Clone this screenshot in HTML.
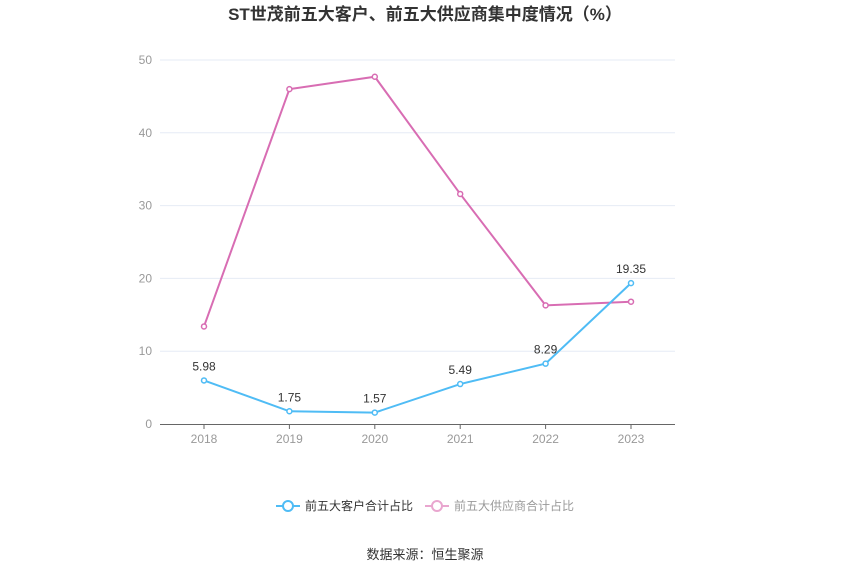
<!DOCTYPE html>
<html><head><meta charset="utf-8"><style>
body{margin:0;background:#fff;font-family:"Liberation Sans","Noto Sans CJK SC",sans-serif;}
</style></head><body>
<svg width="850" height="575" xmlns="http://www.w3.org/2000/svg" style="font-family:'Liberation Sans','Noto Sans CJK SC',sans-serif">
<text x="425" y="20" text-anchor="middle" font-size="17" font-weight="bold" fill="#333">ST世茂前五大客户、前五大供应商集中度情况（%）</text>
<g id="grid"></g>
<g id="series"></g>
<g>
<g>
<line x1="276" y1="506" x2="300" y2="506" stroke="#4fbcf5" stroke-width="2"/>
<circle cx="288" cy="506" r="5" fill="#fff" stroke="#4fbcf5" stroke-width="2"/>
<text x="305" y="510" font-size="12" fill="#333">前五大客户合计占比</text></g>
<g>
<line x1="425" y1="506" x2="449" y2="506" stroke="#e9a6cf" stroke-width="2"/>
<circle cx="437" cy="506" r="5" fill="#fff" stroke="#e9a6cf" stroke-width="2"/>
<text x="454" y="510" font-size="12" fill="#999">前五大供应商合计占比</text></g>
</g>
<text x="425" y="559" text-anchor="middle" font-size="13" fill="#333">数据来源：恒生聚源</text>
</svg>
<script>
const categories=["2018","2019","2020","2021","2022","2023"];
const customers=[5.98,1.75,1.57,5.49,8.29,19.35];
const suppliers=[13.4,46.0,47.7,31.6,16.3,16.8];
const yTicks=[0,10,20,30,40,50];
const NS="http://www.w3.org/2000/svg";
const x=i=>204+i*85.4;
const y=v=>424-v*7.28;
function mk(tag,attrs,parent){const e=document.createElementNS(NS,tag);for(const k in attrs)e.setAttribute(k,attrs[k]);parent.appendChild(e);return e;}
const grid=document.getElementById('grid'),ser=document.getElementById('series');
yTicks.forEach(t=>{
 if(t>0){const l=mk('line',{x1:160,x2:675,y1:y(t),y2:y(t),stroke:'#e6ebf5'},grid);
 
 }
 const tx=mk('text',{x:152,y:y(t)+4,'text-anchor':'end','font-size':12,fill:'#999'},grid);tx.textContent=t;
 
 
});
const ax=mk('line',{x1:160,x2:675,y1:424.5,y2:424.5,stroke:'#666'},grid);


categories.forEach((c,i)=>{
 mk('line',{x1:x(i),x2:x(i),y1:424,y2:429,stroke:'#666'},grid);
 const tx=mk('text',{x:x(i),y:443,'text-anchor':'middle','font-size':12,fill:'#999'},grid);tx.textContent=c;
 
 
});
function draw(vals,color,name,labels){
 const p=mk('polyline',{points:vals.map((v,i)=>x(i)+','+y(v)).join(' '),fill:'none',stroke:color,'stroke-width':2},ser);
 
 
 vals.forEach((v,i)=>{
  const c=mk('circle',{cx:x(i),cy:y(v),r:2.5,fill:'#fff',stroke:color,'stroke-width':1.5},ser);
  
  
  if(labels){const t=mk('text',{x:x(i),y:y(v)-10,'text-anchor':'middle','font-size':12,fill:'#333'},ser);t.textContent=v.toFixed(2);
  
  }
 });
}
draw(suppliers,'#d86db3','suppliers',false);
draw(customers,'#4fbcf5','customers',true);
</script>
</body></html>
